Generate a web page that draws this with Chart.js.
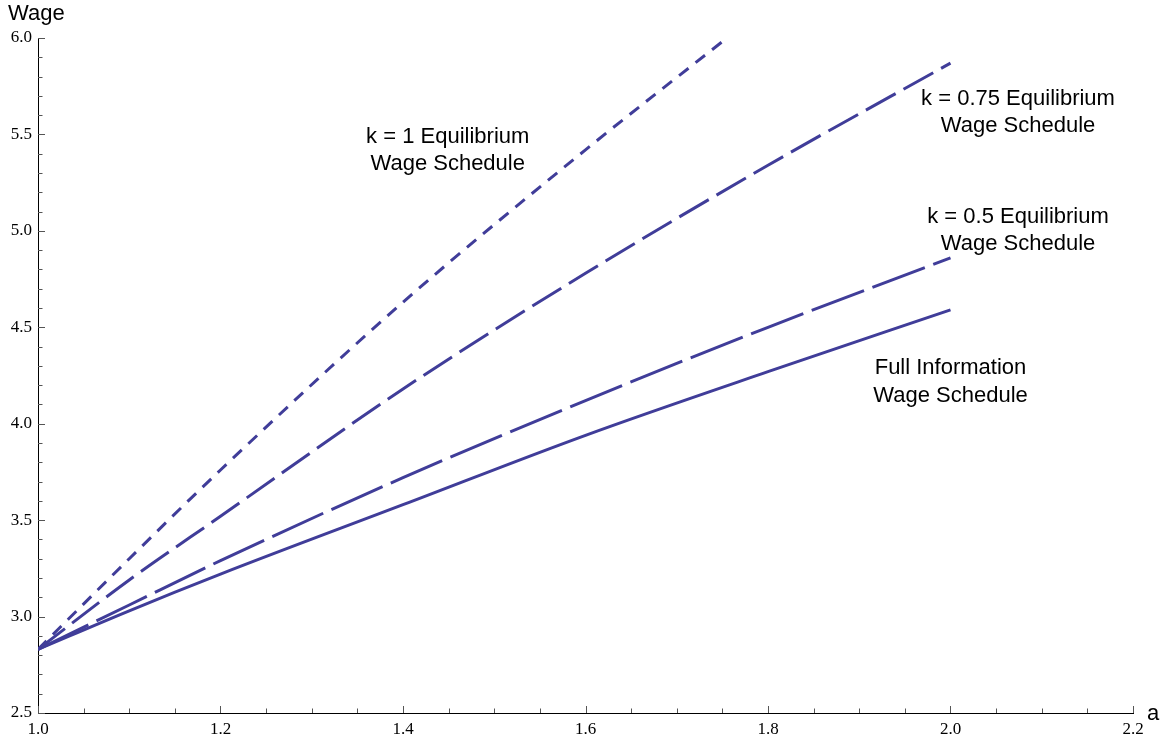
<!DOCTYPE html>
<html>
<head>
<meta charset="utf-8">
<script src="https://cdn.jsdelivr.net/npm/chart.js@4.4.1/dist/chart.umd.min.js"></script>
<style>
    html, body { margin: 0; padding: 0; background: #fff; }
    #wrap { width: 1169px; height: 742px; }
</style>
</head>
<body>
<div id="wrap"><canvas id="wageChart" width="1169" height="742"></canvas></div>
<script>
// Values
const aFull = [1.0, 1.1, 1.2, 1.4, 1.6, 1.8, 2.0];
const wageFull = [2.83, 3.03, 3.22, 3.58, 3.94, 4.27, 4.59];
const wageK05 = [2.83, 3.06, 3.29, 3.72, 4.12, 4.50, 4.86];
const wageK075 = [2.83, 3.19, 3.52, 4.18, 4.78, 5.34, 5.87];
const aK1 = [1.0, 1.1, 1.2, 1.4, 1.6, 1.755];
const wageK1 = [2.83, 3.30, 3.76, 4.63, 5.42, 6.0];

const xTicks = [1.0, 1.2, 1.4, 1.6, 1.8, 2.0, 2.2];
const yTicks = [2.5, 3.0, 3.5, 4.0, 4.5, 5.0, 5.5, 6.0];

// Curve labels: [line 1, line 2, a, wage] (position of first line)
const curveLabels = [
    ['k = 1 Equilibrium', 'Wage Schedule', 1.449, 5.488],
    ['k = 0.75 Equilibrium', 'Wage Schedule', 2.074, 5.685],
    ['k = 0.5 Equilibrium', 'Wage Schedule', 2.074, 5.073],
    ['Full Information', 'Wage Schedule', 2.0, 4.289]
];

const LINE = '#403d99';
const toXY = (xs, ys) => xs.map((x, i) => ({ x: x, y: ys[i] }));

function series(label, xs, ys, dash) {
    return {
        label: label,
        data: toXY(xs, ys),
        borderColor: LINE,
        borderWidth: 3,
        borderDash: dash,
        borderCapStyle: 'butt',
        pointRadius: 0,
        cubicInterpolationMode: 'monotone',
        fill: false
    };
}

// inward major/minor ticks, like the original plot
const inwardTicks = {
    id: 'inwardTicks',
    afterDraw(chart) {
        const { ctx, chartArea, scales: { x, y } } = chart;
        ctx.save();
        ctx.lineWidth = 1;
        ctx.strokeStyle = '#555';
        for (let i = 0; i <= 24; i++) {
            const v = 1.0 + i * 0.05;
            const px = Math.round(x.getPixelForValue(v)) + 0.5;
            const len = i % 4 === 0 ? 7 : 4.5;
            ctx.beginPath();
            ctx.moveTo(px, chartArea.bottom);
            ctx.lineTo(px, chartArea.bottom - len);
            ctx.stroke();
        }
        for (let i = 0; i <= 35; i++) {
            const v = 2.5 + i * 0.1;
            const py = Math.round(y.getPixelForValue(v)) + 0.5;
            const len = i % 5 === 0 ? 7 : 4.5;
            ctx.beginPath();
            ctx.moveTo(chartArea.left, py);
            ctx.lineTo(chartArea.left + len, py);
            ctx.stroke();
        }
        ctx.restore();
    }
};

const textLabels = {
    id: 'textLabels',
    afterDraw(chart) {
        const { ctx, chartArea, scales: { x, y } } = chart;
        ctx.save();
        ctx.fillStyle = '#000';
        ctx.font = "22px 'Liberation Sans', Arial, sans-serif";
        ctx.textAlign = 'center';
        ctx.textBaseline = 'middle';
        curveLabels.forEach(l => {
            const px = x.getPixelForValue(l[2]);
            const py = y.getPixelForValue(l[3]);
            ctx.fillText(l[0], px, py);
            ctx.fillText(l[1], px, py + 27.5);
        });
        // axis titles
        ctx.textAlign = 'left';
        ctx.textBaseline = 'alphabetic';
        ctx.fillText('Wage', 8, 20);
        ctx.fillText('a', chartArea.right + 14, chartArea.bottom + 7);
        ctx.restore();
    }
};

new Chart(document.getElementById('wageChart'), {
    type: 'line',
    data: {
        datasets: [
            series('k = 1', aK1, wageK1, [12, 9]),
            series('k = 0.75', aFull, wageK075, [34, 9]),
            series('k = 0.5', aFull, wageK05, [56, 9]),
            series('Full Information', aFull, wageFull, [])
        ]
    },
    options: {
        responsive: false,
        animation: false,
        layout: { padding: { top: 38, right: 36, left: 0, bottom: 0 } },
        plugins: {
            legend: { display: false },
            tooltip: { enabled: false }
        },
        scales: {
            x: {
                type: 'linear',
                min: 1.0,
                max: 2.2,
                afterFit: s => { s.height = 29; },
                afterBuildTicks: s => { s.ticks = xTicks.map(v => ({ value: v })); },
                grid: { display: false, drawTicks: false },
                border: { display: true, color: '#000', width: 1 },
                ticks: {
                    autoSkip: false,
                    maxRotation: 0,
                    padding: 6,
                    color: '#000',
                    font: { family: "'Liberation Serif', 'Times New Roman', serif", size: 17 },
                    callback: v => v.toFixed(1)
                }
            },
            y: {
                type: 'linear',
                min: 2.5,
                max: 6.0,
                afterFit: s => { s.width = 38; },
                afterBuildTicks: s => { s.ticks = yTicks.map(v => ({ value: v })); },
                grid: { display: false, drawTicks: false },
                border: { display: true, color: '#000', width: 1 },
                ticks: {
                    autoSkip: false,
                    padding: 6,
                    color: '#000',
                    font: { family: "'Liberation Serif', 'Times New Roman', serif", size: 17 },
                    callback: v => v.toFixed(1)
                }
            }
        }
    },
    plugins: [inwardTicks, textLabels]
});
</script>
</body>
</html>
